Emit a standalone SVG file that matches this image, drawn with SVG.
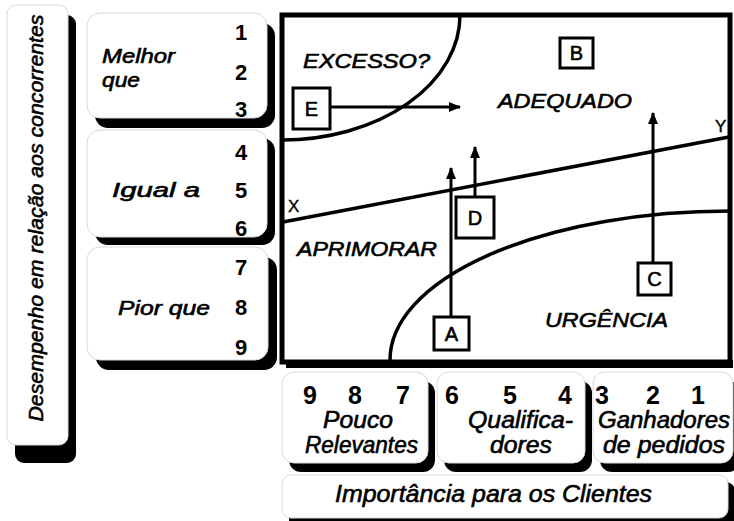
<svg xmlns="http://www.w3.org/2000/svg" width="734" height="521" viewBox="0 0 734 521">
<defs>
<style>
.sh{fill:#000}
.bx{fill:#fff;stroke:#d8d8d8;stroke-width:1}
.it{font-family:"Liberation Sans",Arial,sans-serif;font-style:italic;fill:#000;stroke:#000;stroke-width:0.6}
.num{font-family:"Liberation Sans",Arial,sans-serif;font-weight:bold;fill:#000;text-anchor:middle}
.lt{font-family:"Liberation Sans",Arial,sans-serif;fill:#000;stroke:#000;stroke-width:0.6;text-anchor:middle;font-size:20px}
.xy{font-family:"Liberation Sans",Arial,sans-serif;fill:#000;stroke:#000;stroke-width:0.4;font-size:17px}
.lb{fill:#fff;stroke:#000;stroke-width:3}
.ln{fill:none;stroke:#000;stroke-width:3.5}
.ar{fill:none;stroke:#000;stroke-width:3}
</style>
<marker id="ah" viewBox="0 0 12 10" refX="11" refY="5" markerWidth="12" markerHeight="10" markerUnits="userSpaceOnUse" orient="auto">
<path d="M0,0 L12,5 L0,10 Z" fill="#000"/>
</marker>
</defs>
<rect width="734" height="521" fill="#fff"/>

<g id="eixo-vertical">
<rect class="sh" x="15" y="15" width="61" height="448" rx="9"/>
<rect class="bx" x="7" y="5" width="61" height="440" rx="9"/>
<text class="it" font-size="21" text-anchor="middle" transform="translate(43,218) rotate(-90)" textLength="407" lengthAdjust="spacingAndGlyphs">Desempenho em relação aos concorrentes</text>
</g>

<g id="melhor-que">
<rect class="sh" x="95" y="23" width="180" height="105" rx="13"/>
<rect class="bx" x="87" y="13" width="180" height="105" rx="13"/>
<text class="it" font-size="20" x="102" y="63" textLength="73" lengthAdjust="spacingAndGlyphs">Melhor</text>
<text class="it" font-size="20" x="102" y="87" textLength="38" lengthAdjust="spacingAndGlyphs">que</text>
<text class="num" font-size="22" x="241" y="40">1</text>
<text class="num" font-size="22" x="241" y="80">2</text>
<text class="num" font-size="22" x="241" y="117">3</text>
</g>

<g id="igual-a">
<rect class="sh" x="95" y="138" width="180" height="107" rx="13"/>
<rect class="bx" x="87" y="130" width="180" height="107" rx="13"/>
<text class="it" font-size="20" x="112" y="197" textLength="88" lengthAdjust="spacingAndGlyphs">Igual a</text>
<text class="num" font-size="22" x="241" y="160">4</text>
<text class="num" font-size="22" x="241" y="198">5</text>
<text class="num" font-size="22" x="241" y="236">6</text>
</g>

<g id="pior-que">
<rect class="sh" x="96" y="257" width="181" height="113" rx="13"/>
<rect class="bx" x="87" y="247" width="181" height="113" rx="13"/>
<text class="it" font-size="20" x="118" y="315" textLength="92" lengthAdjust="spacingAndGlyphs">Pior que</text>
<text class="num" font-size="22" x="241" y="275">7</text>
<text class="num" font-size="22" x="241" y="315">8</text>
<text class="num" font-size="22" x="241" y="355">9</text>
</g>

<g id="matriz">
<rect x="282" y="15" width="448" height="347" fill="#fff" stroke="#000" stroke-width="5"/>
<rect x="286" y="360" width="447" height="8" fill="#000"/>
<path class="ln" d="M460,15 A178,125 0 0 1 282,140"/>
<path class="ln" d="M283,222 L729,137"/>
<path class="ln" d="M390,360 A340,149 0 0 1 730,211"/>
<text class="it" font-size="20" x="303" y="68" textLength="127" lengthAdjust="spacingAndGlyphs">EXCESSO?</text>
<text class="it" font-size="21" x="498" y="108" textLength="134" lengthAdjust="spacingAndGlyphs">ADEQUADO</text>
<text class="it" font-size="20" x="297" y="256" textLength="140" lengthAdjust="spacingAndGlyphs">APRIMORAR</text>
<text class="it" font-size="21" x="545" y="327" textLength="123" lengthAdjust="spacingAndGlyphs">URGÊNCIA</text>
<text class="xy" x="288" y="212">X</text>
<text class="xy" x="715" y="132">Y</text>
</g>

<g id="connectors">
<line class="ar" x1="330" y1="107" x2="460" y2="107" marker-end="url(#ah)"/>
<line class="ar" x1="451" y1="317" x2="451" y2="168" marker-end="url(#ah)"/>
<line class="ar" x1="475" y1="197" x2="475" y2="147" marker-end="url(#ah)"/>
<line class="ar" x1="653" y1="263" x2="653" y2="113" marker-end="url(#ah)"/>
</g>

<g id="no-E">
<rect class="lb" x="293" y="88" width="37" height="41"/>
<text class="lt" x="311.5" y="116">E</text>
</g>
<g id="no-B">
<rect class="lb" x="560" y="38" width="33" height="30"/>
<text class="lt" x="576.5" y="60">B</text>
</g>
<g id="no-D">
<rect class="lb" x="456" y="197" width="38" height="41"/>
<text class="lt" x="475" y="225">D</text>
</g>
<g id="no-A">
<rect class="lb" x="434" y="317" width="35" height="33"/>
<text class="lt" x="451.5" y="341">A</text>
</g>
<g id="no-C">
<rect class="lb" x="638" y="263" width="33" height="32"/>
<text class="lt" x="654.5" y="286">C</text>
</g>

<g id="pouco-relevantes">
<rect class="sh" x="289" y="381" width="146" height="91" rx="12"/>
<rect class="bx" x="282" y="372" width="146" height="91" rx="12"/>
<text class="num" font-size="25" x="310" y="404">9</text>
<text class="num" font-size="25" x="355" y="404">8</text>
<text class="num" font-size="25" x="403" y="404">7</text>
<text class="it" font-size="23" x="323" y="428" textLength="70" lengthAdjust="spacingAndGlyphs">Pouco</text>
<text class="it" font-size="23" x="305" y="453" textLength="113" lengthAdjust="spacingAndGlyphs">Relevantes</text>
</g>

<g id="qualificadores">
<rect class="sh" x="444" y="381" width="148" height="91" rx="12"/>
<rect class="bx" x="437" y="372" width="148" height="91" rx="12"/>
<text class="num" font-size="25" x="452" y="404">6</text>
<text class="num" font-size="25" x="510" y="404">5</text>
<text class="num" font-size="25" x="565" y="404">4</text>
<text class="it" font-size="23" x="468" y="428" textLength="105" lengthAdjust="spacingAndGlyphs">Qualifica-</text>
<text class="it" font-size="23" x="490" y="453" textLength="62" lengthAdjust="spacingAndGlyphs">dores</text>
</g>

<g id="ganhadores">
<rect class="sh" x="600" y="381" width="140" height="91" rx="12"/>
<rect class="bx" x="593" y="372" width="140" height="91" rx="12"/>
<text class="num" font-size="25" x="602" y="404">3</text>
<text class="num" font-size="25" x="653" y="404">2</text>
<text class="num" font-size="25" x="698" y="404">1</text>
<text class="it" font-size="23" x="598" y="428" textLength="132" lengthAdjust="spacingAndGlyphs">Ganhadores</text>
<text class="it" font-size="23" x="603" y="453" textLength="122" lengthAdjust="spacingAndGlyphs">de pedidos</text>
</g>

<g id="eixo-horizontal">
<rect class="sh" x="289" y="482" width="446" height="50" rx="9"/>
<rect class="bx" x="282" y="475" width="446" height="43" rx="9"/>
<text class="it" font-size="24" x="335" y="502" textLength="317" lengthAdjust="spacingAndGlyphs">Importância para os Clientes</text>
</g>
</svg>
